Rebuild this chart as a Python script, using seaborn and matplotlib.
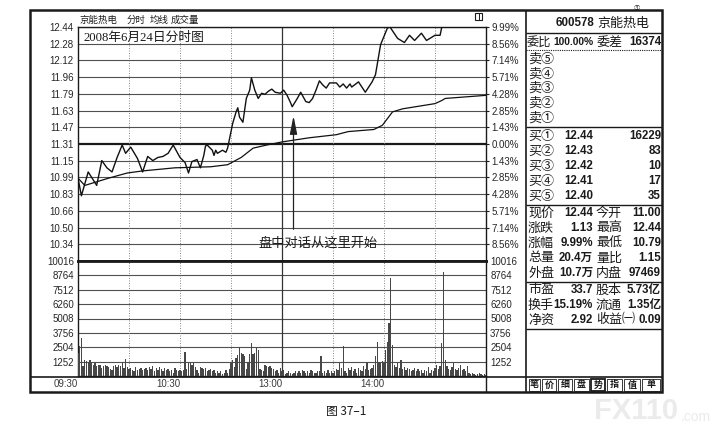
import matplotlib
matplotlib.use('Agg')
import matplotlib.pyplot as plt
import matplotlib.transforms as mtransforms
from matplotlib.lines import Line2D
from matplotlib.patches import Rectangle, FancyArrowPatch
import seaborn as sns

# ---------------- data ----------------
stock_name = '京能热电'
stock_code = '600578'
chart_title = '2008年6月24日分时图'
caption = '图 37–1'
annotation_text = '盘中对话从这里开始'
header_items = ['京能热电', '分时', '均线', '成交量']

prev_close = 11.31
limit_up = 12.44

price_minutes = [0, 2, 6, 11, 14, 17, 20, 23, 26, 28, 31, 35, 38, 41, 44, 47, 50, 53, 56, 60,
                 63, 65, 67, 70, 72, 74, 75, 76, 79, 80, 81, 82, 85, 87, 88, 89, 91, 93, 94, 95,
                 97, 99, 101, 102, 104, 106, 108, 110, 112, 114, 116, 119, 121, 123, 125, 126, 129, 131, 132, 134,
                 136, 138, 140, 142, 144, 146, 148, 151, 152, 154, 156, 158, 160, 161, 165, 169, 173, 175, 178, 179,
                 182, 183.5, 188, 192, 195, 198, 202, 205, 208, 210, 213, 214, 240]
price_values = [10.98, 10.81, 11.04, 10.91, 11.15, 11.08, 11.04, 11.18, 11.30, 11.22, 11.28, 11.17, 11.04, 11.19, 11.15, 11.18, 11.19, 11.22, 11.30, 11.18,
                11.13, 11.03, 11.14, 11.16, 11.08, 11.20, 11.29, 11.30, 11.25, 11.20, 11.25, 11.22, 11.25, 11.23, 11.27, 11.35, 11.51, 11.62, 11.66, 11.57,
                11.52, 11.75, 11.83, 11.95, 11.83, 11.75, 11.80, 11.79, 11.82, 11.84, 11.81, 11.80, 11.83, 11.78, 11.71, 11.67, 11.75, 11.81, 11.78, 11.72,
                11.71, 11.75, 11.83, 11.92, 11.88, 11.85, 11.90, 11.90, 11.90, 11.86, 11.89, 11.85, 11.89, 11.86, 11.91, 11.81, 11.91, 11.98, 12.27, 12.31,
                12.43, 12.44, 12.33, 12.29, 12.36, 12.31, 12.38, 12.31, 12.34, 12.36, 12.36, 12.44, 12.44]

avg_minutes = [0, 4, 18, 29, 38, 57, 78, 88, 96, 103, 111, 120, 136, 152, 159, 174, 179, 185, 191, 210, 214, 216, 240]
avg_values = [10.98, 10.91, 10.98, 11.03, 11.05, 11.08, 11.09, 11.11, 11.18, 11.27, 11.30, 11.33, 11.37, 11.40, 11.43, 11.45, 11.49, 11.62, 11.65, 11.70, 11.73, 11.75, 11.78]

volume_values = [
    2000, 2600, 3300, 900, 1400, 1300, 1200, 1400, 1100, 1000,
    1100, 900, 1000, 1000, 700, 900, 1000, 900, 800, 600,
    500, 900, 1000, 800, 1000, 900, 1100, 700, 1500, 800,
    600, 700, 500, 400, 800, 500, 600, 700, 500, 600,
    700, 500, 800, 600, 900, 400, 700, 500, 800, 600,
    400, 700, 500, 600, 400, 500, 300, 700, 500, 400,
    500, 400, 500, 2100, 600, 1200, 1100, 1000, 1100, 800,
    500, 300, 800, 700, 600, 700, 400, 500, 600, 400,
    500, 300, 400, 300, 400, 200, 300, 500, 300, 600,
    1100, 1400, 800, 1600, 1800, 2500, 2000, 1900, 1700, 600,
    1200, 1900, 2900, 1900, 2000, 2400, 2300, 600, 500, 400,
    1000, 900, 800, 900, 700, 600, 400, 500, 300, 700,
    400, 500, 200, 300, 400, 300, 200, 300, 400, 300,
    400, 300, 500, 400, 300, 400, 300, 500, 400, 300,
    300, 400, 400, 1700, 300, 400, 300, 500, 300, 400,
    300, 400, 600, 500, 1100, 700, 2600, 400, 300, 700,
    500, 800, 400, 600, 300, 700, 500, 400, 900, 600,
    1200, 500, 600, 700, 1000, 1700, 3000, 1200, 1100, 1300,
    1200, 2300, 3000, 4600, 8500, 2700, 1000, 800, 1100, 700,
    1400, 600, 800, 500, 700, 600, 400, 500, 700, 400,
    600, 400, 500, 300, 500, 400, 800, 300, 500, 400,
    700, 1000, 600, 900, 2900, 9100, 1400, 900, 600, 500,
    800, 1100, 600, 500, 700, 1000, 500, 600, 400, 900,
    300, 200, 300, 200, 100, 200, 300, 200, 100, 200, 100]
volume_minutes = list(range(len(volume_values)))

price_tick_labels = ['12.44', '12.28', '12.12', '11.96', '11.79', '11.63', '11.47', '11.31',
                     '11.15', '10.99', '10.83', '10.66', '10.50', '10.34']
pct_tick_labels = ['9.99%', '8.56%', '7.14%', '5.71%', '4.28%', '2.85%', '1.43%', '0.00%',
                   '1.43%', '2.85%', '4.28%', '5.71%', '7.14%', '8.56%']
volume_tick_labels = ['10016', '8764', '7512', '6260', '5008', '3756', '2504', '1252']
volume_step = 1252
time_tick_minutes = [0, 60, 120, 180]
time_tick_labels = ['09:30', '10:30', '13:00', '14:00']
grid_minutes_dashed = [30, 60, 90, 150, 180, 210]
grid_minute_solid = 120

sell_labels = ['卖⑤', '卖④', '卖③', '卖②', '卖①']
buy_labels = ['买①', '买②', '买③', '买④', '买⑤']
buy_prices = ['12.44', '12.43', '12.42', '12.41', '12.40']
buy_volumes = ['16229', '83', '10', '17', '35']
stats_rows = [('现价', '12.44', '今开', '11.00'),
              ('涨跌', '1.13', '最高', '12.44'),
              ('涨幅', '9.99%', '最低', '10.79'),
              ('总量', '20.4万', '量比', '1.15'),
              ('外盘', '10.7万', '内盘', '97469')]
fund_rows = [('市盈', '33.7', '股本', '5.73亿'),
             ('换手', '15.19%', '流通', '1.35亿'),
             ('净资', '2.92', '收益㈠', '0.09')]
order_ratio = ('委比', '100.00%', '委差', '16374')
tab_labels = ['笔', '价', '细', '盘', '势', '指', '值', '单']
selected_tab = '势'

# ---------------- style ----------------
sns.set_theme(style='white')
plt.rcParams['font.family'] = ['Liberation Sans', 'Noto Sans CJK SC', 'DejaVu Sans']
CJK = ['Noto Sans CJK SC', 'DejaVu Sans']
NUM = ['Liberation Sans', 'Noto Sans CJK SC']
INK = '#1a1a1a'
GRID = '#505050'

W, H = 716, 437
fig = plt.figure(figsize=(W / 100, H / 100), dpi=100)
fig.patch.set_facecolor('white')


def fx(x):
    return x / W


def fy(y):
    return 1 - y / H


def T(x, y, s, **kw):
    kw.setdefault('va', 'center')
    kw.setdefault('color', INK)
    return fig.text(fx(x), fy(y), s, **kw)


def L(x0, y0, x1, y1, lw=1.0, color=INK, ls='-'):
    fig.add_artist(Line2D([fx(x0), fx(x1)], [fy(y0), fy(y1)], transform=fig.transFigure,
                          lw=lw, color=color, ls=ls, solid_capstyle='butt'))


X0, X1 = 78, 486
YP0, YP1 = 27, 261
YV1 = 376
ax_p = fig.add_axes([fx(X0), fy(YP1), (X1 - X0) / W, (YP1 - YP0) / H])
ax_v = fig.add_axes([fx(X0), fy(YV1), (X1 - X0) / W, (YV1 - YP1) / H], sharex=ax_p)

step = (limit_up - prev_close) / 7
price_levels = [prev_close + k * step for k in range(7, -7, -1)]
ax_p.set_ylim(prev_close - 7 * step, prev_close + 7 * step)
ax_p.set_xlim(0, 240)
ax_v.set_ylim(0, volume_step * 8)

# grid
for k, lv in enumerate(price_levels):
    ax_p.axhline(lv, color=INK if k == 7 else GRID, lw=1.6 if k == 7 else 0.8, zorder=1)
for k in range(1, 8):
    ax_v.axhline(k * volume_step, color=GRID, lw=0.8, zorder=1)
for a in (ax_p, ax_v):
    for m in grid_minutes_dashed:
        a.axvline(m, color='#777777', lw=0.6, ls=(0, (1.2, 1.8)), zorder=1)
    a.axvline(grid_minute_solid, color='#333333', lw=0.9, zorder=1)
    a.set_facecolor('white')
    for sp in a.spines.values():
        sp.set_color(INK)
        sp.set_linewidth(1.0)
ax_p.spines['bottom'].set_linewidth(2.0)
ax_v.spines['top'].set_linewidth(2.0)

# series
sns.lineplot(x=price_minutes, y=price_values, ax=ax_p, color='#111111', lw=1.0,
             estimator=None, sort=False, zorder=3)
sns.lineplot(x=avg_minutes, y=avg_values, ax=ax_p, color='#111111', lw=0.9,
             estimator=None, sort=False, zorder=3)
sns.barplot(x=volume_minutes, y=volume_values, ax=ax_v, native_scale=True, width=0.75,
            color='#474747', saturation=1, errorbar=None, linewidth=0, zorder=3)
ax_p.set_xlim(0, 240)
ax_v.set_xlim(0, 240)
ax_v.set_ylim(0, volume_step * 8)
for a in (ax_p, ax_v):
    a.set_xlabel('')
    a.set_ylabel('')

# tick labels
lab_kw = dict(labelsize=7, labelcolor='#262626')
ax_p.set_yticks(price_levels)
ax_p.set_yticklabels(price_tick_labels)
ax_p.tick_params(axis='y', left=True, length=0, pad=3, **lab_kw)
ax_p.tick_params(axis='x', bottom=False, labelbottom=False)
ax_pr = ax_p.twinx()
ax_pr.set_ylim(ax_p.get_ylim())
ax_pr.set_yticks(price_levels)
ax_pr.set_yticklabels(pct_tick_labels)
ax_pr.tick_params(axis='y', right=True, length=2.5, width=0.8, color=INK, pad=1.5, **lab_kw)
for sp in ax_pr.spines.values():
    sp.set_visible(False)

vol_levels = [volume_step * k for k in range(8, 0, -1)]
ax_v.set_yticks(vol_levels)
ax_v.set_yticklabels(volume_tick_labels)
ax_v.tick_params(axis='y', left=True, right=True, labelright=True, length=0, pad=3, **lab_kw)
ax_v.set_xticks(time_tick_minutes)
ax_v.set_xticklabels(time_tick_labels)
ax_v.tick_params(axis='x', bottom=True, length=0, pad=2.5, labelsize=7, labelcolor='#3a3a3a')
offset = mtransforms.ScaledTranslation(-12 / 100, 0, fig.dpi_scale_trans)
for lbl in ax_v.get_xticklabels():
    lbl.set_transform(lbl.get_transform() + offset)

# ---------------- frame ----------------
fig.add_artist(Rectangle((fx(30), fy(392)), (662 - 30) / W, (392 - 10) / H, transform=fig.transFigure,
                         fill=False, lw=1.8, edgecolor=INK))
L(526, 10, 526, 392, lw=1.2)
L(486, 376, 486, 392, lw=1.0)
L(30, 376.5, 662, 376.5, lw=1.2)
# header
header_x = [79, 127, 150, 171]
for s, x in zip(header_items, header_x):
    T(x, 20, s, family=CJK, fontsize=6.8, ha='left')
fig.add_artist(Rectangle((fx(475), fy(20)), 7 / W, 7 / H, transform=fig.transFigure,
                         fill=False, lw=0.8, edgecolor=INK))
L(478.5, 13, 478.5, 20, lw=0.7)
T(83, 38, chart_title, family=['Liberation Serif', 'Noto Sans CJK SC'], fontsize=9.2, ha='left')

# annotation arrow
fig.add_artist(FancyArrowPatch(
    (fx(293.5), fy(232)), (fx(293.5), fy(113)), transform=fig.transFigure,
    arrowstyle='-|>,head_length=1.1,head_width=0.22', mutation_scale=10,
    lw=0.9, color='#222222'))
T(318, 243, annotation_text, family=CJK, fontsize=9.5, ha='center')

# ---------------- right panel ----------------
T(556, 23, stock_code, family=NUM, fontsize=8.3, weight='bold', ha='left')
T(597, 23, stock_name, family=CJK, fontsize=9.4, ha='left')
T(637, 8, '①', family=CJK, fontsize=4.5, ha='center')
L(526, 32.5, 662, 32.5, lw=1.0)
T(527, 42, order_ratio[0], family=CJK, fontsize=8.8, ha='left')
T(594, 42, order_ratio[1], family=NUM, fontsize=7.4, weight='bold', ha='right')
T(597, 42, order_ratio[2], family=CJK, fontsize=9.4, ha='left')
T(661, 42, order_ratio[3], family=NUM, fontsize=8.3, weight='bold', ha='right')
L(526, 49.5, 662, 49.5, lw=0.8, ls=(0, (1, 1)))
for i, s in enumerate(sell_labels):
    T(528, 59 + 14.8 * i, s, family=CJK, fontsize=9.4, ha='left')
L(526, 126.5, 662, 126.5, lw=1.0)
for i, (s, p, v) in enumerate(zip(buy_labels, buy_prices, buy_volumes)):
    y = 136 + 15 * i
    T(528, y, s, family=CJK, fontsize=9.4, ha='left')
    T(593, y, p, family=NUM, fontsize=8.3, weight='bold', ha='right')
    T(661, y, v, family=NUM, fontsize=8.3, weight='bold', ha='right')
L(526, 204.5, 662, 204.5, lw=1.0)
for rows, y0 in ((stats_rows, 213), (fund_rows, 290)):
    for i, (a, b, c, d) in enumerate(rows):
        y = y0 + 15 * i
        T(528, y, a, family=CJK, fontsize=9.4, ha='left')
        T(593, y, b, family=NUM, fontsize=8.3, weight='bold', ha='right')
        T(596, y, c, family=CJK, fontsize=9.4, ha='left')
        T(661, y, d, family=NUM, fontsize=8.3, weight='bold', ha='right')
L(526, 281.5, 662, 281.5, lw=1.0)
L(526, 328.5, 662, 328.5, lw=1.0)

# tabs
tab_edges = [528, 541, 557, 573, 590, 606, 623, 641, 661]
for i, s in enumerate(tab_labels):
    xa, xb = tab_edges[i], tab_edges[i + 1]
    sel = s == selected_tab
    fig.add_artist(Rectangle((fx(xa + 1), fy(391)), (xb - xa - 2) / W, 12 / H, transform=fig.transFigure,
                             fill=False, lw=1.3 if sel else 0.6, edgecolor=INK))
    T((xa + xb) / 2, 385, s, family=CJK, fontsize=6.5, ha='center', weight='bold')

# caption and watermark
T(346, 411, caption, family=CJK, fontsize=8.5, ha='center')
T(594, 411, 'FX110', family=NUM, fontsize=21, weight='bold', ha='left', color='#ebebeb')
T(681, 417, '.com', family=NUM, fontsize=10, ha='left', color='#ebebeb')

fig.savefig('out.png', dpi=100, facecolor='white')
